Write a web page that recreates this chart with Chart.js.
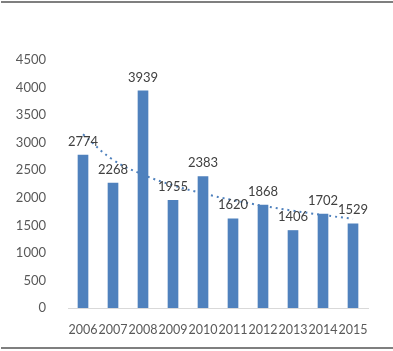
<!DOCTYPE html>
<html>
<head>
<meta charset="utf-8">
<script src="https://cdn.jsdelivr.net/npm/chart.js@4"></script>
<style>
  body { margin: 0; background: #fff; }
  #wrap { position: relative; width: 393px; height: 351px; }
  .rule { position: absolute; left: 1px; width: 392px; height: 2px; background: #7f7f7f; }
</style>
</head>
<body>
<div id="wrap">
  <canvas id="grafico" width="393" height="351"></canvas>
  <div class="rule" style="top:1px"></div>
  <div class="rule" style="top:347px"></div>
</div>
<script>
// datos del grafico
const anios = ["2006", "2007", "2008", "2009", "2010", "2011", "2012", "2013", "2014", "2015"];
const valores = [2774, 2268, 3939, 1955, 2383, 1620, 1868, 1406, 1702, 1529];
// linea de tendencia
const tendencia = [3151, 2689, 2419, 2227, 2079, 1957, 1854, 1765, 1687, 1617];
const ticksY = [0, 500, 1000, 1500, 2000, 2500, 3000, 3500, 4000, 4500];

const fuente = "Lato, 'Open Sans', sans-serif";

// etiquetas encima de las barras
const etiquetas = {
    id: "etiquetas",
    afterDatasetsDraw(chart) {
        const ctx = chart.ctx;
        const meta = chart.getDatasetMeta(0);
        ctx.save();
        ctx.fillStyle = "#404040";
        ctx.font = "13px " + fuente;
        ctx.textAlign = "center";
        ctx.textBaseline = "bottom";
        meta.data.forEach((bar, i) => {
            ctx.fillText(String(valores[i]), bar.x, bar.y - 7);
        });
        ctx.restore();
    }
};

new Chart(document.getElementById("grafico"), {
    type: "bar",
    data: {
        labels: anios,
        datasets: [{
            type: "bar",
            data: valores,
            backgroundColor: "#4f81bd",
            barThickness: 10,
            order: 2
        }, {
            type: "line",
            data: tendencia,
            borderColor: "#4f81bd",
            borderWidth: 2,
            borderDash: [2, 4],
            pointRadius: 0,
            tension: 0.4,
            order: 1
        }]
    },
    options: {
        responsive: false,
        animation: false,
        layout: { padding: { top: 60, right: 25, bottom: 0, left: 0 } },
        plugins: { legend: { display: false }, tooltip: { enabled: false } },
        scales: {
            x: {
                grid: { display: false },
                border: { display: true, color: "#d9d9d9" },
                ticks: {
                    color: "#595959",
                    font: { family: fuente, size: 12.5 },
                    maxRotation: 0, minRotation: 0, autoSkip: false,
                    padding: 6
                },
                afterFit(s) { s.height = 43; }
            },
            y: {
                min: 0,
                max: 4500,
                grid: { display: false },
                border: { display: false },
                afterBuildTicks(s) { s.ticks = ticksY.map(v => ({ value: v })); },
                ticks: {
                    color: "#595959",
                    font: { family: fuente, size: 13 },
                    padding: 14,
                    callback: (v) => String(v)
                },
                afterFit(s) { s.width = 68; }
            }
        }
    },
    plugins: [etiquetas]
});
</script>
</body>
</html>
